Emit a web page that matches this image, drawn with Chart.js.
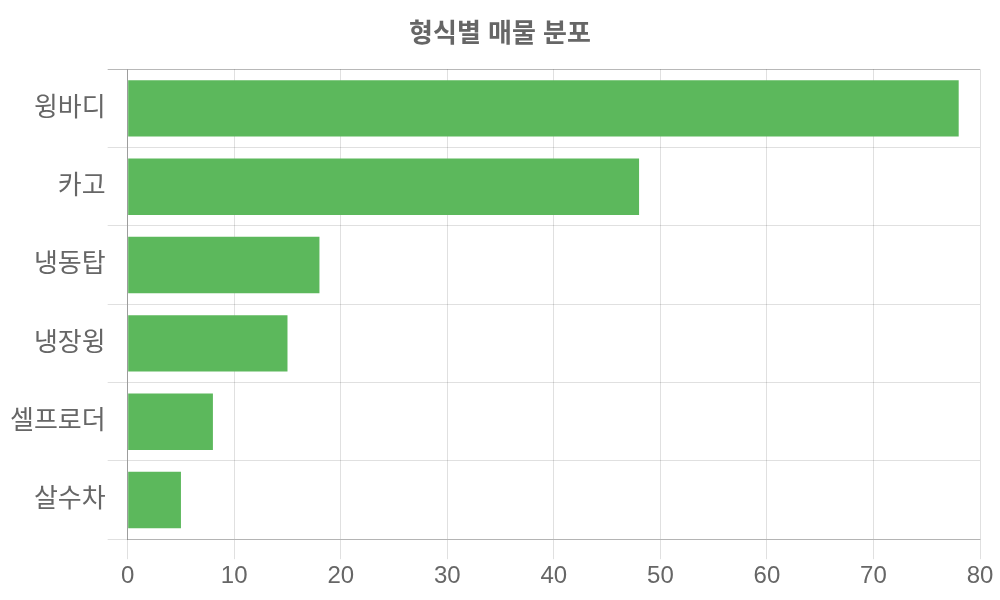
<!DOCTYPE html>
<html><head><meta charset="utf-8">
<script src="https://cdn.jsdelivr.net/npm/chart.js@4"></script>
<style>html,body{margin:0;padding:0;background:#fff}#wrap{width:1000px;height:600px}</style>
</head><body><div id="wrap"><canvas id="c"></canvas></div>
<script>
const categories = ['윙바디', '카고', '냉동탑', '냉장윙', '셀프로더', '살수차'];
const counts = [78, 48, 18, 15, 8, 5];
const xTicks = [0, 10, 20, 30, 40, 50, 60, 70, 80];
const FONT = "'Liberation Sans', 'Noto Sans CJK KR', sans-serif";
Chart.defaults.font.family = FONT;
Chart.defaults.color = '#666';
new Chart(document.getElementById('c'), {
  type: 'bar',
  data: { labels: categories, datasets: [{ data: counts, backgroundColor: '#5cb85c' }] },
  options: {
    indexAxis: 'y', responsive: true, maintainAspectRatio: false, animation: false,
    layout: { padding: { left: 8, right: 8, top: 10, bottom: 6 } },
    plugins: {
      legend: { display: false },
      title: { display: true, text: '형식별 매물 분포', color: '#666', font: { size: 26, weight: 'bold', family: FONT }, padding: { top: 9, bottom: 19 } },
      tooltip: { enabled: false }
    },
    scales: {
      x: { min: 0, max: 80, afterBuildTicks: a => { a.ticks = xTicks.map(v => ({ value: v })); },
           afterFit: s => { s.paddingRight = 20; },
           ticks: { font: { size: 24 }, color: '#666', padding: 3 },
           grid: { color: 'rgba(0,0,0,0.12)', tickLength: 20 }, border: { color: 'rgba(0,0,0,0.2)' } },
      y: { ticks: { font: { size: 26 }, color: '#666', padding: 2 },
           grid: { color: c => c.index === 0 ? 'rgba(0,0,0,0.28)' : 'rgba(0,0,0,0.12)', tickLength: 20 },
           border: { color: 'rgba(0,0,0,0.3)' } }
    }
  }
});
</script></body></html>
